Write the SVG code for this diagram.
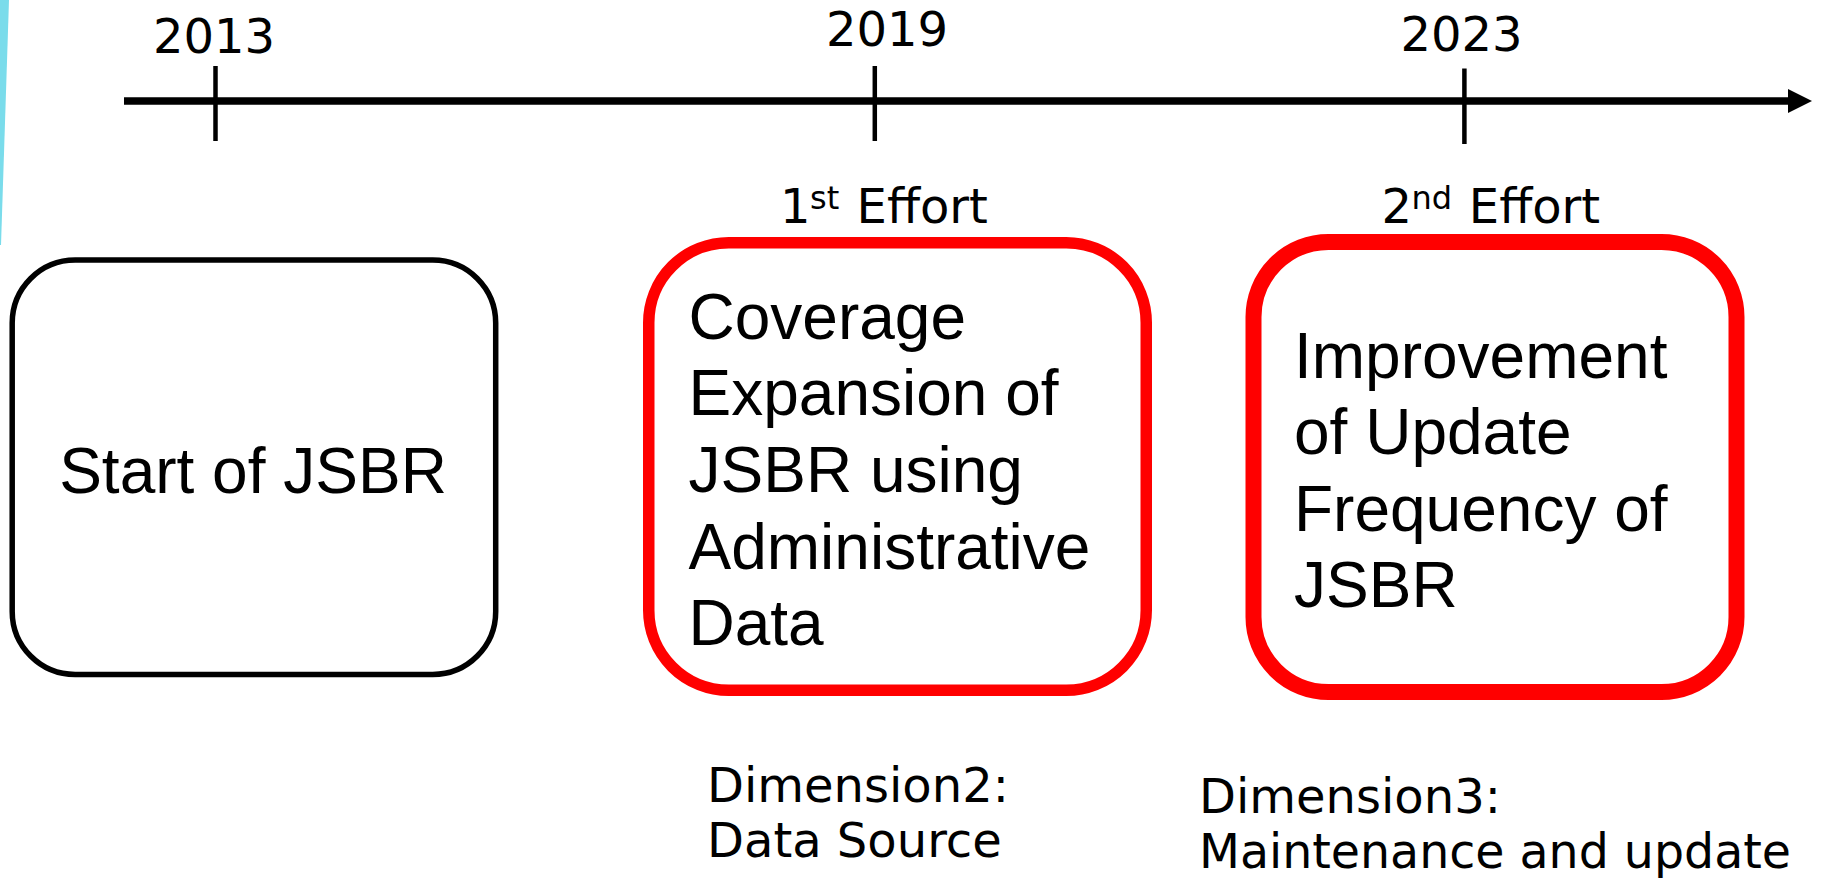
<svg xmlns="http://www.w3.org/2000/svg" width="1821" height="879" viewBox="0 0 1821 879">
  <style>
    .yr { font-family: "DejaVu Sans", Verdana, sans-serif; font-size: 48px; fill: #000; text-anchor: middle; }
    .eff { font-family: "DejaVu Sans", Verdana, sans-serif; font-size: 48px; fill: #000; }
    .sup { font-size: 32px; }
    .dim { font-family: "DejaVu Sans", Verdana, sans-serif; font-size: 48px; fill: #000; }
    .box { font-family: "Liberation Sans", Arial, sans-serif; font-size: 64px; fill: #000; }
    .tick { stroke: #000; stroke-width: 4.5; }
  </style>
  <rect width="1821" height="879" fill="#ffffff"/>
  <polygon id="accent" points="0,0 9,0 1,245 0,245" fill="#7ADCEB"/>

  <g id="connectors">
    <line x1="124" y1="101" x2="1790" y2="101" stroke="#000" stroke-width="7.5"/>
    <polygon points="1788,89 1812,101 1788,113" fill="#000"/>
    <line class="tick" x1="215.5" y1="66" x2="215.5" y2="141"/>
    <line class="tick" x1="874.8" y1="66" x2="874.8" y2="141"/>
    <line class="tick" x1="1464.4" y1="68.5" x2="1464.4" y2="144"/>
  </g>

  <g id="year2013"><text class="yr" x="214" y="53">2013</text></g>
  <g id="year2019"><text class="yr" x="887" y="46">2019</text></g>
  <g id="year2023"><text class="yr" x="1461.5" y="50.5">2023</text></g>

  <g id="effort1">
    <text class="eff" y="223"><tspan x="780">1</tspan><tspan class="sup" x="810" y="208.5">st</tspan><tspan x="856.6" y="223">Effort</tspan></text>
  </g>
  <g id="effort2">
    <text class="eff" y="223"><tspan x="1381.5">2</tspan><tspan class="sup" x="1411.4" y="208.5">nd</tspan><tspan x="1468.8" y="223">Effort</tspan></text>
  </g>

  <g id="node-start">
    <rect x="12.2" y="260" width="483.5" height="414.5" rx="63" ry="63" fill="#fff" stroke="#000" stroke-width="5.5"/>
    <text class="box" x="253" y="493" text-anchor="middle">Start of JSBR</text>
  </g>

  <g id="node-coverage">
    <rect x="648.75" y="242.75" width="497.5" height="447.5" rx="80" ry="80" fill="#fff" stroke="#FF0000" stroke-width="11.5"/>
    <text class="box">
      <tspan x="688.5" y="338.5">Coverage</tspan>
      <tspan x="688.5" y="415.2">Expansion of</tspan>
      <tspan x="688.5" y="491.9">JSBR using</tspan>
      <tspan x="688.5" y="568.6">Administrative</tspan>
      <tspan x="688.5" y="645.3">Data</tspan>
    </text>
  </g>

  <g id="node-update">
    <rect x="1253.5" y="242" width="483" height="450" rx="75" ry="75" fill="#fff" stroke="#FF0000" stroke-width="16"/>
    <text class="box">
      <tspan x="1294" y="377.5">Improvement</tspan>
      <tspan x="1294" y="454">of Update</tspan>
      <tspan x="1294" y="530.5">Frequency of</tspan>
      <tspan x="1294" y="607">JSBR</tspan>
    </text>
  </g>

  <g id="label-dim2">
    <text class="dim"><tspan x="707" y="802">Dimension2:</tspan><tspan x="707" y="857">Data Source</tspan></text>
  </g>
  <g id="label-dim3">
    <text class="dim"><tspan x="1199" y="813">Dimension3:</tspan><tspan x="1199" y="868" textLength="592" lengthAdjust="spacingAndGlyphs">Maintenance and update</tspan></text>
  </g>
</svg>
